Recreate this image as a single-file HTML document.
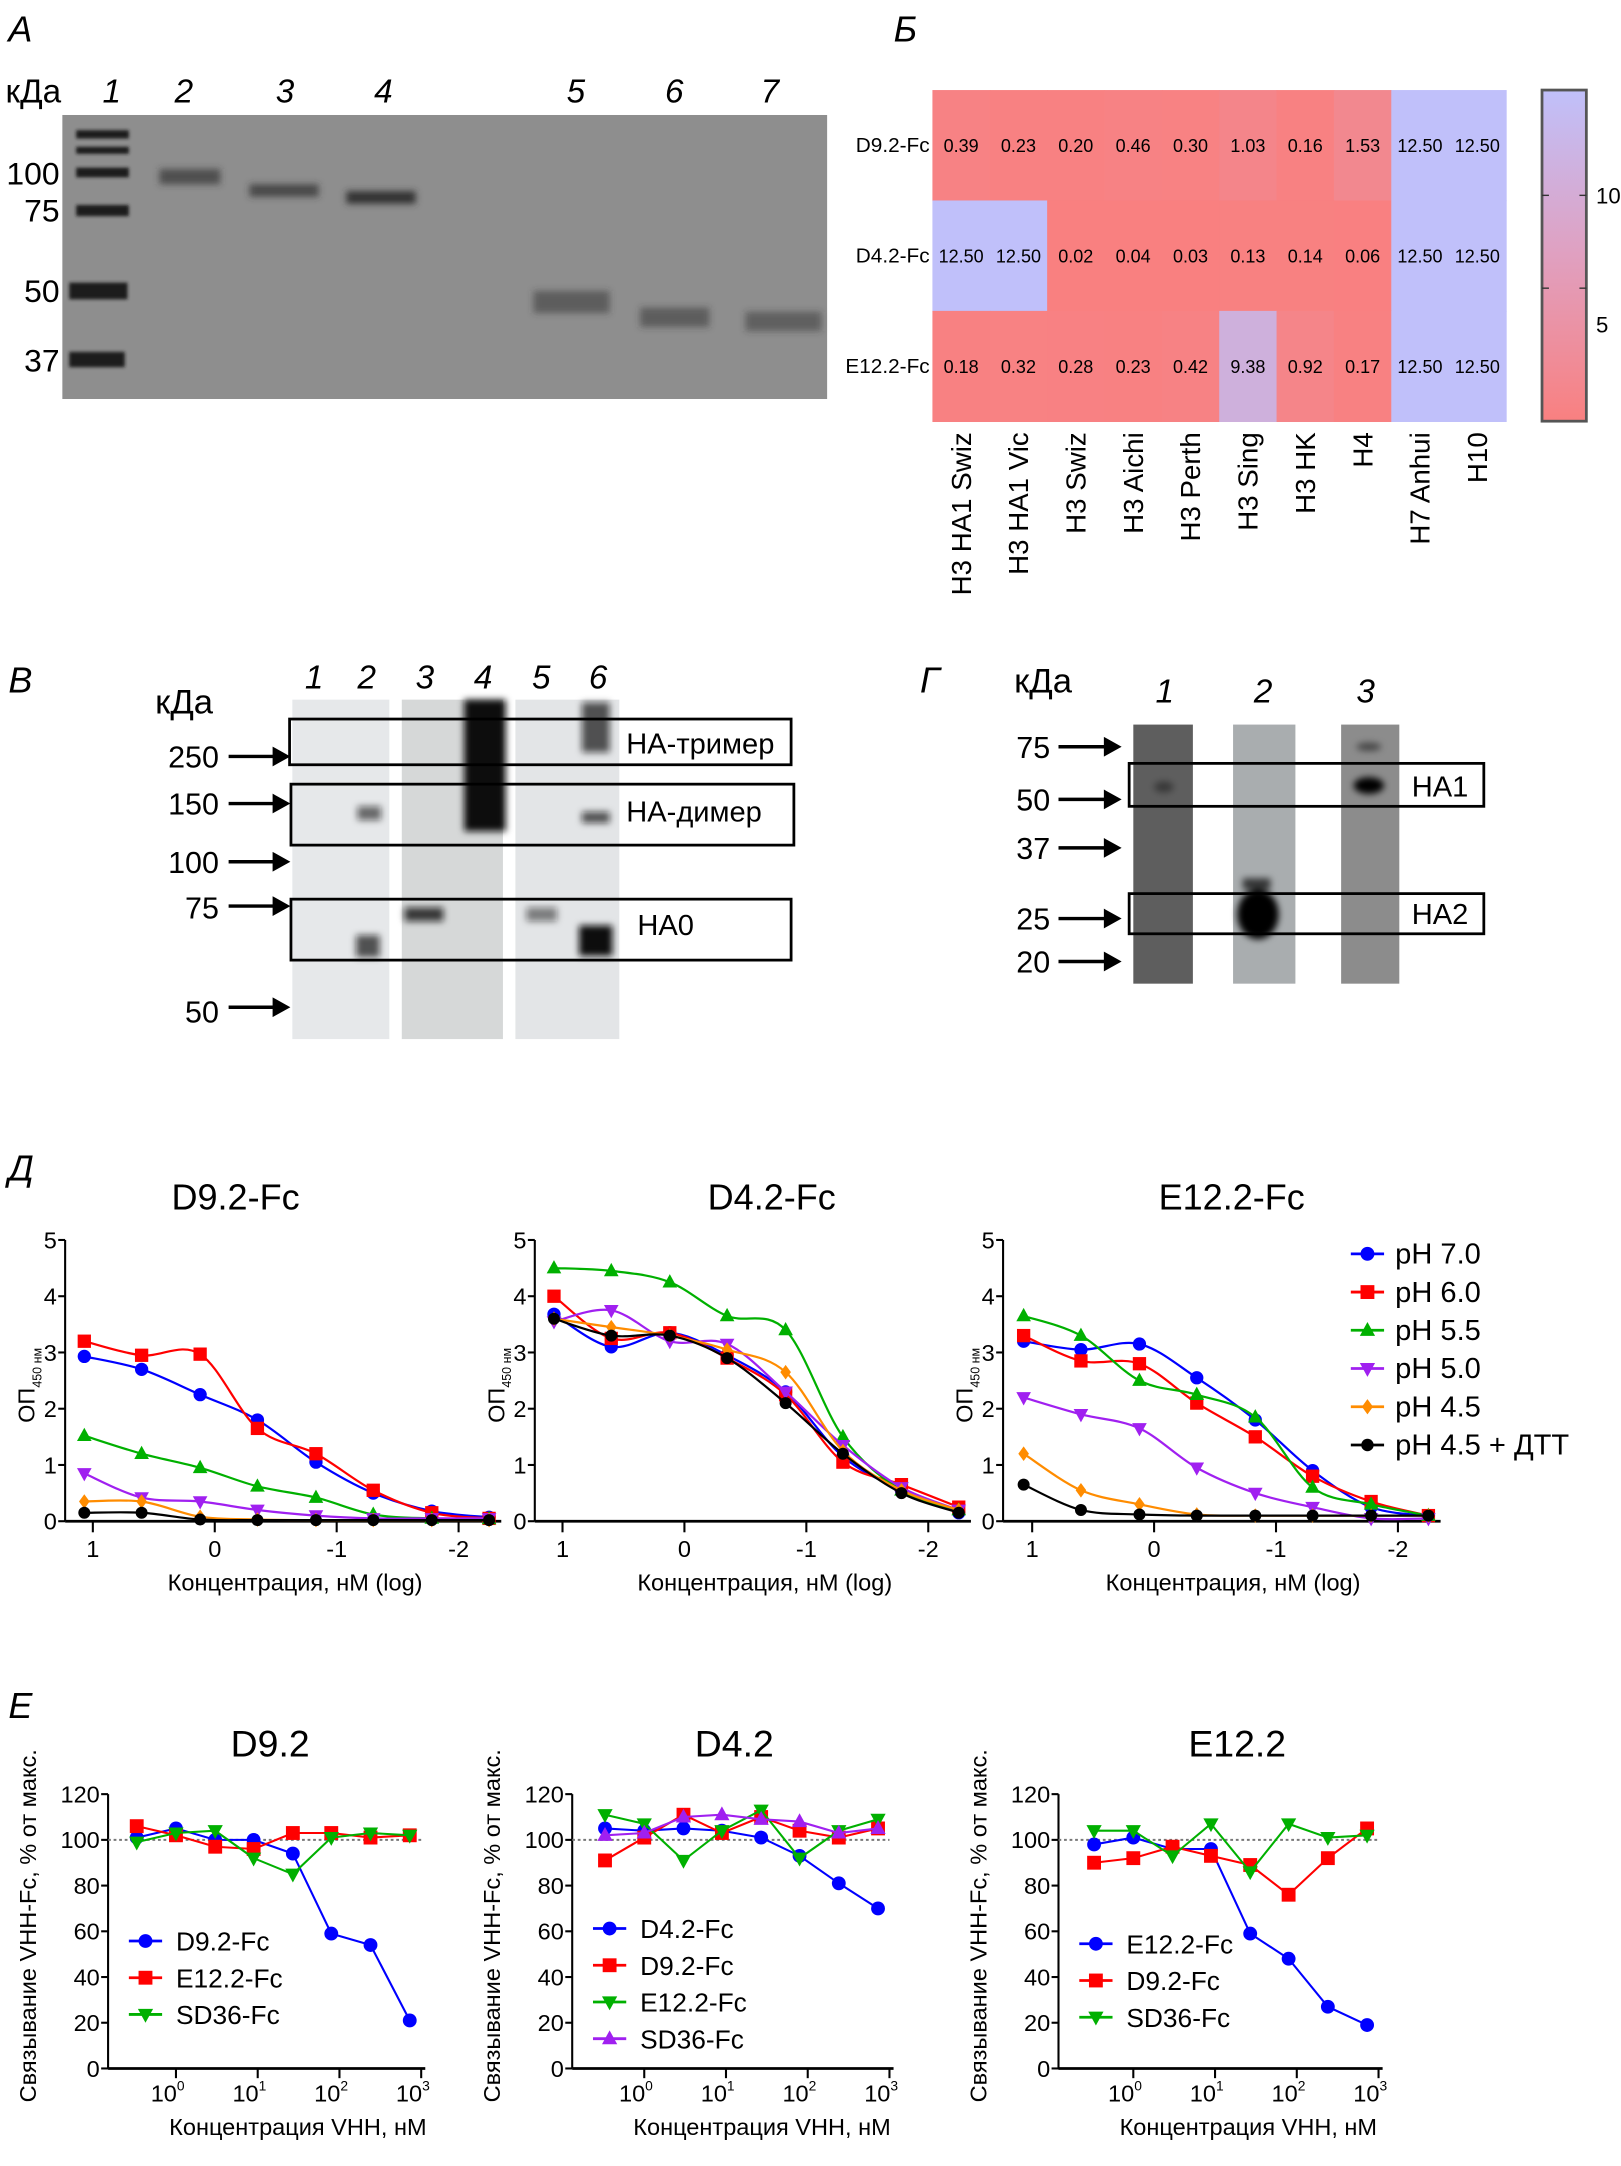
<!DOCTYPE html>
<html><head><meta charset="utf-8">
<style>
html,body{margin:0;padding:0;background:#fff;}
svg{display:block;font-family:"Liberation Sans",sans-serif;}
</style></head>
<body>
<svg id="fig" width="1621" height="2166" viewBox="0 0 1170 1563.4" xmlns="http://www.w3.org/2000/svg">
<defs>
<filter id="blur2" x="-50%" y="-50%" width="200%" height="200%"><feGaussianBlur stdDeviation="2.5"/></filter>
<filter id="blur1" x="-50%" y="-50%" width="200%" height="200%"><feGaussianBlur stdDeviation="1.2"/></filter>
<linearGradient id="cbar" x1="0" y1="0" x2="0" y2="1"><stop offset="0" stop-color="#c0c0fa"/><stop offset="0.5" stop-color="#e0a0c0"/><stop offset="1" stop-color="#f98080"/></linearGradient>
</defs>
<!-- Panel A -->
<g>
<text x="6" y="30" font-size="26" font-style="italic">А</text>
<text x="4" y="74" font-size="24">кДа</text>
<g font-size="24" font-style="italic">
<text x="74" y="74">1</text><text x="126" y="74">2</text><text x="199" y="74">3</text><text x="270" y="74">4</text><text x="409" y="74">5</text><text x="480" y="74">6</text><text x="549" y="74">7</text></g>
<rect x="45" y="83" width="552" height="205" fill="#8e8e8e"/>
<g fill="#1a1a1a" filter="url(#blur1)">
<rect x="55" y="94" width="38" height="6"/><rect x="55" y="106" width="38" height="5"/><rect x="55" y="121" width="38" height="7"/><rect x="55" y="148" width="38" height="8"/><rect x="50" y="204" width="42" height="12"/><rect x="50" y="254" width="40" height="11"/></g>
<g fill="#333" filter="url(#blur2)">
<rect x="115" y="122" width="44" height="11" opacity="0.7"/><rect x="180" y="133" width="50" height="9" opacity="0.75"/><rect x="250" y="138" width="50" height="9"/><rect x="385" y="210" width="55" height="16" opacity="0.55"/><rect x="462" y="222" width="50" height="14" opacity="0.55"/><rect x="538" y="225" width="55" height="14" opacity="0.5"/></g>
<g font-size="23" text-anchor="end">
<text x="43" y="133">100</text><text x="43" y="160">75</text><text x="43" y="218">50</text><text x="43" y="268">37</text></g>
</g>
<!-- Panel B heatmap -->
<g id="heat">
<text x="645" y="30" font-size="26" font-style="italic">Б</text>
<rect x="1113" y="65" width="32" height="239" fill="url(#cbar)" stroke="#555" stroke-width="2"/>
<g font-size="16"><text x="1152" y="147">10</text><text x="1152" y="240">5</text>
<line x1="1113" y1="141" x2="1118" y2="141" stroke="#333"/><line x1="1140" y1="141" x2="1145" y2="141" stroke="#333"/><line x1="1113" y1="208" x2="1118" y2="208" stroke="#333"/><line x1="1140" y1="208" x2="1145" y2="208" stroke="#333"/></g>
</g>
<!-- Panel V -->
<g>
<text x="6" y="500" font-size="26" font-style="italic">В</text>
<text x="112" y="515" font-size="25">кДа</text>
<g font-size="24" font-style="italic"><text x="220" y="497">1</text><text x="258" y="497">2</text><text x="300" y="497">3</text><text x="342" y="497">4</text><text x="384" y="497">5</text><text x="425" y="497">6</text></g>
<rect x="211" y="505" width="70" height="245" fill="#e6e8ea"/><rect x="290" y="505" width="73" height="245" fill="#d6d8d8"/><rect x="372" y="505" width="75" height="245" fill="#e3e5e7"/>
<g fill="#111" filter="url(#blur2)"><rect x="258" y="582" width="17" height="10" opacity="0.6"/><rect x="257" y="675" width="17" height="16" opacity="0.7"/><rect x="335" y="505" width="30" height="95"/><rect x="292" y="655" width="28" height="10" opacity="0.8"/><rect x="380" y="655" width="22" height="10" opacity="0.5"/><rect x="420" y="507" width="20" height="36" opacity="0.7"/><rect x="420" y="586" width="20" height="8" opacity="0.7"/><rect x="418" y="668" width="24" height="22"/></g>
<g fill="none" stroke="#000" stroke-width="2"><rect x="209" y="519" width="362" height="33"/><rect x="210" y="566" width="363" height="44"/><rect x="210" y="649" width="361" height="44"/></g>
<g font-size="21"><text x="452" y="544">HA-тример</text><text x="452" y="593">HA-димер</text><text x="460" y="675">HA0</text></g>
<g font-size="22" text-anchor="end"><text x="158" y="554">250</text><text x="158" y="588">150</text><text x="158" y="630">100</text><text x="158" y="663">75</text><text x="158" y="738">50</text></g>
<g stroke="#000" stroke-width="2.5" fill="#000"><line x1="165" y1="546" x2="200" y2="546"/><polygon points="198,541 207,546 198,551"/><line x1="165" y1="580" x2="200" y2="580"/><polygon points="198,575 207,580 198,585"/><line x1="165" y1="622" x2="200" y2="622"/><polygon points="198,617 207,622 198,627"/><line x1="165" y1="654" x2="200" y2="654"/><polygon points="198,649 207,654 198,659"/><line x1="165" y1="727" x2="200" y2="727"/><polygon points="198,722 207,727 198,732"/></g>
</g>
<!-- Panel G -->
<g>
<text x="664" y="500" font-size="26" font-style="italic">Г</text>
<text x="732" y="500" font-size="25">кДа</text>
<g font-size="24" font-style="italic"><text x="834" y="507">1</text><text x="905" y="507">2</text><text x="979" y="507">3</text></g>
<rect x="818" y="523" width="43" height="187" fill="#5e5e5e"/><rect x="890" y="523" width="45" height="187" fill="#a9adaf"/><rect x="968" y="523" width="42" height="187" fill="#8c8c8c"/>
<g fill="#000" filter="url(#blur2)"><ellipse cx="908" cy="660" rx="15" ry="18"/><rect x="897" y="634" width="20" height="8" opacity="0.7"/><ellipse cx="988" cy="567" rx="11" ry="6"/><ellipse cx="988" cy="539" rx="9" ry="3" opacity="0.5"/><ellipse cx="840" cy="568" rx="7" ry="4" opacity="0.4"/></g>
<g fill="none" stroke="#000" stroke-width="2"><rect x="815" y="551" width="256" height="31"/><rect x="815" y="645" width="256" height="29"/></g>
<g font-size="21"><text x="1019" y="575">HA1</text><text x="1019" y="667">HA2</text></g>
<g font-size="22" text-anchor="end"><text x="758" y="547">75</text><text x="758" y="585">50</text><text x="758" y="620">37</text><text x="758" y="671">25</text><text x="758" y="702">20</text></g>
<g stroke="#000" stroke-width="2.5" fill="#000"><line x1="764" y1="539" x2="800" y2="539"/><polygon points="798,534 807,539 798,544"/><line x1="764" y1="577" x2="800" y2="577"/><polygon points="798,572 807,577 798,582"/><line x1="764" y1="612" x2="800" y2="612"/><polygon points="798,607 807,612 798,617"/><line x1="764" y1="663" x2="800" y2="663"/><polygon points="798,658 807,663 798,668"/><line x1="764" y1="694" x2="800" y2="694"/><polygon points="798,689 807,694 798,699"/></g>
</g>
<g id="pd"><text x="6" y="852" font-size="26" font-style="italic">Д</text></g>
<g id="pe"><text x="6" y="1240" font-size="26" font-style="italic">Е</text></g>
</svg>
<script>
// ---- heatmap data ----
const heatRows = ["D9.2-Fc","D4.2-Fc","E12.2-Fc"];
const heatCols = ["H3 HA1 Swiz","H3 HA1 Vic","H3 Swiz","H3 Aichi","H3 Perth","H3 Sing","H3 HK","H4","H7 Anhui","H10"];
const heatD9 = [0.39,0.23,0.20,0.46,0.30,1.03,0.16,1.53,12.50,12.50];
const heatD4 = [12.50,12.50,0.02,0.04,0.03,0.13,0.14,0.06,12.50,12.50];
const heatE12 = [0.18,0.32,0.28,0.23,0.42,9.38,0.92,0.17,12.50,12.50];
// ---- OD panel data ----
const odLogConc = [1.07,0.6,0.12,-0.35,-0.83,-1.3,-1.78,-2.25];
const odSeriesNames = ["pH 7.0","pH 6.0","pH 5.5","pH 5.0","pH 4.5","pH 4.5 + ДТТ"];
const odTitles = ["D9.2-Fc","D4.2-Fc","E12.2-Fc"];
const odP1pH70=[2.93,2.7,2.25,1.8,1.05,0.5,0.18,0.07];
const odP1pH60=[3.2,2.95,2.97,1.65,1.2,0.55,0.15,0.05];
const odP1pH55=[1.52,1.2,0.95,0.62,0.42,0.12,0.05,0.04];
const odP1pH50=[0.85,0.42,0.35,0.2,0.1,0.05,0.05,0.05];
const odP1pH45=[0.35,0.35,0.08,0.03,0.02,0.02,0.02,0.02];
const odP1DTT=[0.15,0.15,0.03,0.02,0.02,0.02,0.02,0.02];
const odP2pH70=[3.68,3.1,3.35,2.95,2.3,1.15,0.55,0.15];
const odP2pH60=[4.0,3.25,3.35,2.9,2.25,1.05,0.65,0.25];
const odP2pH55=[4.5,4.45,4.25,3.65,3.4,1.5,0.55,0.2];
const odP2pH50=[3.55,3.75,3.2,3.15,2.3,1.35,0.6,0.2];
const odP2pH45=[3.6,3.45,3.3,3.05,2.65,1.25,0.55,0.2];
const odP2DTT=[3.6,3.3,3.3,2.9,2.1,1.2,0.5,0.15];
const odP3pH70=[3.2,3.05,3.15,2.55,1.8,0.9,0.25,0.1];
const odP3pH60=[3.3,2.85,2.8,2.1,1.5,0.8,0.35,0.1];
const odP3pH55=[3.65,3.3,2.5,2.25,1.85,0.6,0.3,0.1];
const odP3pH50=[2.2,1.9,1.65,0.95,0.5,0.25,0.05,0.05];
const odP3pH45=[1.2,0.55,0.3,0.12,0.1,0.1,0.1,0.1];
const odP3DTT=[0.65,0.2,0.12,0.1,0.1,0.1,0.1,0.1];
const odYTicks=[0,1,2,3,4,5];
const odXTicks=[1,0,-1,-2];
// ---- competition data ----
const compLogConc=[-0.48,0,0.48,0.95,1.43,1.9,2.38,2.86];
const compTitles=["D9.2","D4.2","E12.2"];
const compYTicks=[0,20,40,60,80,100,120];
const compXTicks=[0,1,2,3];
const c1Names=["D9.2-Fc","E12.2-Fc","SD36-Fc"];
const c1D9=[101,105,100,100,94,59,54,21];
const c1E12=[106,102,97,96,103,103,101,102];
const c1SD36=[99,103,104,92,85,101,103,102];
const c2Names=["D4.2-Fc","D9.2-Fc","E12.2-Fc","SD36-Fc"];
const c2D4=[105,104,105,104,101,93,81,70];
const c2D9=[91,101,111,103,110,104,101,105];
const c2E12=[111,107,91,104,113,92,104,109];
const c2SD36=[102,103,110,111,109,108,103,105];
const c3Names=["E12.2-Fc","D9.2-Fc","SD36-Fc"];
const c3E12=[98,101,96,96,59,48,27,19];
const c3D9=[90,92,97,93,89,76,92,105];
const c3SD36=[104,104,93,107,86,107,101,102];

const NS="http://www.w3.org/2000/svg";
function mk(tag,attrs,parent){const e=document.createElementNS(NS,tag);for(const k in attrs)e.setAttribute(k,attrs[k]);parent.appendChild(e);return e;}
function txt(str,attrs,parent){const e=mk("text",attrs,parent);e.textContent=str;return e;}

// heatmap
const heat=document.getElementById("heat");
const hx0=673,hy0=65,cw=41.4,rh=79.7;
const heatVals=[heatD9,heatD4,heatE12];
function heatColor(v){const t=Math.min(1,v/12.5);const r=Math.round(249+(192-249)*t),g=Math.round(128+(192-128)*t),b=Math.round(128+(250-128)*t);return `rgb(${r},${g},${b})`;}
heatVals.forEach((row,i)=>{
  const lab=txt(heatRows[i],{x:hx0-2,y:hy0+rh*i+rh/2+5,"font-size":15,"text-anchor":"end"},heat);
  
  
  row.forEach((v,j)=>{
    const c=mk("rect",{x:hx0+cw*j,y:hy0+rh*i,width:cw+0.5,height:rh+0.5,fill:heatColor(v)},heat);
    
    
    const t=txt(v.toFixed(2),{x:hx0+cw*j+cw/2,y:hy0+rh*i+rh/2+5,"font-size":13,"text-anchor":"middle"},heat);
    
    
  });
});
heatCols.forEach((c,j)=>{
  const x=hx0+cw*j+cw/2+7,y=312;
  const t=txt(c,{x:x,y:y,"font-size":20,"text-anchor":"end",transform:`rotate(-90 ${x} ${y})`},heat);
  
  
});

// markers
const colors=["#0000ff","#ff0000","#00b000","#a020f0","#ff8c00","#000000"];
function marker(shape,x,y,col,parent,s){
  s=s||5.5;let e;
  if(shape==="circle")e=mk("circle",{cx:x,cy:y,r:s,fill:col},parent);
  else if(shape==="square")e=mk("rect",{x:x-s,y:y-s,width:2*s,height:2*s,fill:col},parent);
  else if(shape==="up")e=mk("polygon",{points:`${x},${y-s*1.2} ${x+s*1.1},${y+s*0.8} ${x-s*1.1},${y+s*0.8}`,fill:col},parent);
  else if(shape==="down")e=mk("polygon",{points:`${x},${y+s*1.2} ${x+s*1.1},${y-s*0.8} ${x-s*1.1},${y-s*0.8}`,fill:col},parent);
  else if(shape==="diamond")e=mk("polygon",{points:`${x},${y-s*1.1} ${x+s*0.8},${y} ${x},${y+s*1.1} ${x-s*0.8},${y}`,fill:col},parent);
  else e=mk("circle",{cx:x,cy:y,r:s*0.9,fill:col},parent);
  return e;
}
function smooth(pts){let d=`M${pts[0][0]},${pts[0][1]}`;for(let i=0;i<pts.length-1;i++){const p0=pts[Math.max(0,i-1)],p1=pts[i],p2=pts[i+1],p3=pts[Math.min(pts.length-1,i+2)];const c1x=p1[0]+(p2[0]-p0[0])/6,c1y=p1[1]+(p2[1]-p0[1])/6,c2x=p2[0]-(p3[0]-p1[0])/6,c2y=p2[1]-(p3[1]-p1[1])/6;d+=` C${c1x},${c1y} ${c2x},${c2y} ${p2[0]},${p2[1]}`;}return d;}

// OD panels
const pd=document.getElementById("pd");
const odShapes=["circle","square","up","down","diamond","dot"];
const odData=[[odP1pH70,odP1pH60,odP1pH55,odP1pH50,odP1pH45,odP1DTT],[odP2pH70,odP2pH60,odP2pH55,odP2pH50,odP2pH45,odP2DTT],[odP3pH70,odP3pH60,odP3pH55,odP3pH50,odP3pH45,odP3DTT]];
const odAxisX=[47,386,724],odZeroX=[155,494,833],odTitleX=[170,557,889];
odData.forEach((series,p)=>{
  const g=mk("g",{},pd);
  
  
  const xs=v=>odZeroX[p]-88*v, ys=v=>1098-40.6*v;
  const ax=odAxisX[p];
  const ttl=txt(odTitles[p],{x:odTitleX[p],y:873,"font-size":26,"text-anchor":"middle"},g);
  
  
  mk("line",{x1:ax,y1:ys(5),x2:ax,y2:ys(0),stroke:"#000","stroke-width":1.5},g);
  mk("line",{x1:ax,y1:ys(0),x2:xs(-2.35),y2:ys(0),stroke:"#000","stroke-width":2},g);
  odYTicks.forEach(t=>{mk("line",{x1:ax-5,y1:ys(t),x2:ax,y2:ys(t),stroke:"#000","stroke-width":1.5},g);
    const l=txt(String(t),{x:ax-6,y:ys(t)+6,"font-size":17,"text-anchor":"end"},g);
    
    });
  odXTicks.forEach(t=>{mk("line",{x1:xs(t),y1:ys(0),x2:xs(t),y2:ys(0)+8,stroke:"#000","stroke-width":1.5},g);
    const l=txt(String(t),{x:xs(t),y:1124,"font-size":17,"text-anchor":"middle"},g);
    
    });
  const xl=txt("Концентрация, нМ (log)",{x:ax+166,y:1148,"font-size":17,"text-anchor":"middle"},g);
  
  
  const yx=ax-22,yy=1000;
  const yl=mk("text",{x:yx,y:yy,"font-size":17,"text-anchor":"middle",transform:`rotate(-90 ${yx} ${yy})`},g);
  yl.innerHTML='ОП<tspan font-size="9" dy="5">450 нм</tspan>';
  
  
  series.forEach((vals,s)=>{
    const pts=vals.map((v,i)=>[xs(odLogConc[i]),ys(v)]);
    const c=mk("path",{d:smooth(pts),fill:"none",stroke:colors[s],"stroke-width":1.6},g);
    
    
    pts.forEach(pt=>{const m=marker(odShapes[s],pt[0],pt[1],colors[s],g,4.8);
      
      });
  });
});
// OD legend
odSeriesNames.forEach((n,s)=>{
  const y=905+27.6*s;
  const l=mk("line",{x1:975,y1:y,x2:999,y2:y,stroke:colors[s],"stroke-width":2},pd);
  
  
  const m=marker(odShapes[s],987,y,colors[s],pd,5);
  
  
  const t=txt(n,{x:1007,y:y+7,"font-size":21},pd);
  
  
});

// competition panels
const pe=document.getElementById("pe");
const compPanels=[
 {names:c1Names,data:[c1D9,c1E12,c1SD36],cols:[colors[0],colors[1],colors[2]],shapes:["circle","square","down"],axis:78,zero:127,ly:1401},
 {names:c2Names,data:[c2D4,c2D9,c2E12,c2SD36],cols:[colors[0],colors[1],colors[2],colors[3]],shapes:["circle","square","down","up"],axis:413,zero:465,ly:1392},
 {names:c3Names,data:[c3E12,c3D9,c3SD36],cols:[colors[0],colors[1],colors[2]],shapes:["circle","square","down"],axis:764,zero:818,ly:1403}];
compPanels.forEach((P,p)=>{
  const g=mk("g",{},pe);
  
  
  const xs=v=>P.zero+59*v, ys=v=>1493-1.65*v;
  const ax=P.axis;
  const ttl=txt(compTitles[p],{x:ax+117+(p===2?12:0),y:1268,"font-size":27,"text-anchor":"middle"},g);
  
  
  mk("line",{x1:ax,y1:ys(120),x2:ax,y2:ys(0),stroke:"#000","stroke-width":1.5},g);
  mk("line",{x1:ax,y1:ys(0),x2:xs(3.05),y2:ys(0),stroke:"#000","stroke-width":2},g);
  mk("line",{x1:ax,y1:ys(100),x2:xs(3),y2:ys(100),stroke:"#777","stroke-width":1.5,"stroke-dasharray":"2,2"},g);
  compYTicks.forEach(t=>{mk("line",{x1:ax-5,y1:ys(t),x2:ax,y2:ys(t),stroke:"#000","stroke-width":1.5},g);
    const l=txt(String(t),{x:ax-6,y:ys(t)+6,"font-size":17,"text-anchor":"end"},g);
    
    });
  compXTicks.forEach(t=>{mk("line",{x1:xs(t),y1:ys(0),x2:xs(t),y2:ys(0)+7,stroke:"#000","stroke-width":1.5},g);
    const l=mk("text",{x:xs(t)-6,y:1517,"font-size":17,"text-anchor":"middle"},g);
    l.innerHTML='10<tspan font-size="10" dy="-8">'+t+'</tspan>';
    
    });
  const xl=txt("Концентрация VHH, нМ",{x:ax+137,y:1541,"font-size":17,"text-anchor":"middle"},g);
  
  
  const yx=ax-52,yy=1390;
  const yl=txt("Связывание VHH-Fc, % от макс.",{x:yx,y:yy,"font-size":17,"text-anchor":"middle",transform:`rotate(-90 ${yx} ${yy})`},g);
  
  
  P.data.forEach((vals,s)=>{
    const pts=vals.map((v,i)=>[xs(compLogConc[i]),ys(v)]);
    const ln=mk("polyline",{points:pts.map(q=>q.join(",")).join(" "),fill:"none",stroke:P.cols[s],"stroke-width":1.5},g);
    
    
    pts.forEach(pt=>{const m=marker(P.shapes[s],pt[0],pt[1],P.cols[s],g,5);
      
      });
  });
  P.names.forEach((n,s)=>{
    const y=P.ly+26.5*s, lx=ax+27;
    mk("line",{x1:lx-12,y1:y,x2:lx+12,y2:y,stroke:P.cols[s],"stroke-width":2},g);
    const m=marker(P.shapes[s],lx,y,P.cols[s],g,5);
    
    
    const t=txt(n,{x:lx+22,y:y+7,"font-size":19},g);
    
    
  });
});
</script>
</body></html>
